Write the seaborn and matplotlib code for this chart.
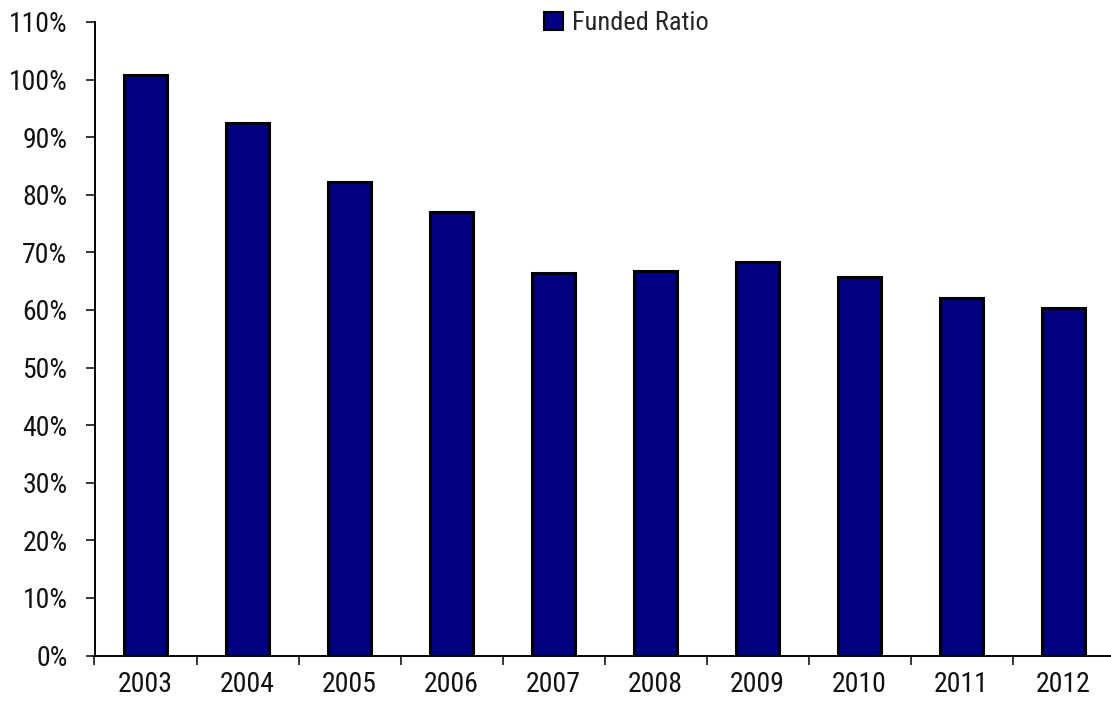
import matplotlib
matplotlib.use("Agg")
import matplotlib.pyplot as plt
from matplotlib.ticker import PercentFormatter, FixedLocator
from matplotlib.patches import Patch
import seaborn as sns
import pandas as pd

# Funded ratio by year
years = ["2003", "2004", "2005", "2006", "2007", "2008", "2009", "2010", "2011", "2012"]
funded_ratio = [1.008, 0.925, 0.822, 0.770, 0.664, 0.667, 0.683, 0.658, 0.620, 0.603]
series_name = "Funded Ratio"
y_ticks = [i / 10 for i in range(12)]

df = pd.DataFrame({"year": years, "ratio": funded_ratio})

sns.set_theme(style="white")
plt.rcParams["font.family"] = ["Roboto Condensed", "DejaVu Sans"]

fig = plt.figure(figsize=(11.11, 7.13), dpi=100)
ax = fig.add_axes([94.5 / 1111, 1 - 655.5 / 713, (1111 - 94.5) / 1111 * 1.0035, (655.5 - 22) / 713])

sns.barplot(data=df, x="year", y="ratio", color="#000080", edgecolor="black",
            linewidth=2.2, width=0.42, saturation=1, ax=ax)

ax.set_xlim(-0.5, len(years) - 0.5)
ax.set_ylim(0, 1.10)
ax.set_xlabel("")
ax.set_ylabel("")

ax.yaxis.set_major_locator(FixedLocator(y_ticks))
ax.yaxis.set_major_formatter(PercentFormatter(1.0, decimals=0))
ax.tick_params(axis="y", which="major", direction="out", length=6.5, width=1.1,
               color="black", left=True, labelsize=20, pad=13, labelcolor="#111111")

# Year labels at bar centres, tick marks at category boundaries
ax.set_xticks(range(len(years)))
ax.set_xticklabels(years)
ax.set_xticks([i - 0.5 for i in range(len(years) + 1)], minor=True)
ax.tick_params(axis="x", which="major", length=0, labelsize=20, pad=11.5, labelcolor="#111111")
ax.tick_params(axis="x", which="minor", direction="out", length=6.5, width=1.1,
               color="black", bottom=True)

for side in ("top", "right"):
    ax.spines[side].set_visible(False)
for side in ("left", "bottom"):
    ax.spines[side].set_color("black")
    ax.spines[side].set_linewidth(1.4)

handle = Patch(facecolor="#000080", edgecolor="black", linewidth=1.5, label=series_name)
fig.legend(handles=[handle], loc="center", bbox_to_anchor=(626.5 / 1111, 1 - 23 / 713),
           frameon=False, fontsize=19, handlelength=0.7, handleheight=0.7,
           handletextpad=0.35, borderpad=0)

fig.savefig("out.png", dpi=100)
